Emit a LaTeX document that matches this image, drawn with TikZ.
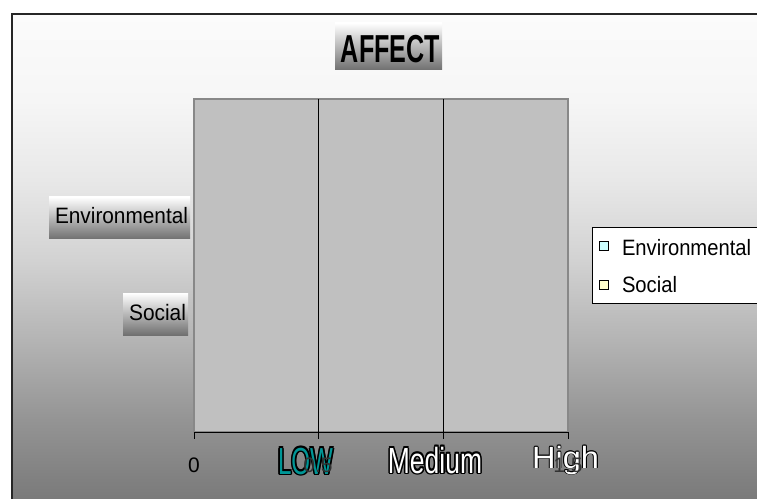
\documentclass[tikz,border=0pt]{standalone}
\usepackage{fontspec}
\setmainfont{Liberation Sans}
\usepackage{graphicx}
\definecolor{g0}{gray}{0.984}
\definecolor{g1}{gray}{0.965}
\definecolor{g2}{gray}{0.910}
\definecolor{g3}{gray}{0.824}
\definecolor{g4}{gray}{0.706}
\definecolor{g5}{gray}{0.580}
\definecolor{g6}{gray}{0.478}
\definecolor{plotgray}{RGB}{192,192,192}
\definecolor{plotedge}{RGB}{136,136,136}
\definecolor{boxgray}{RGB}{112,112,112}
\definecolor{envcol}{RGB}{204,255,255}
\definecolor{soccol}{RGB}{255,255,204}
\definecolor{teal2}{RGB}{0,150,150}
\pgfdeclareverticalshading{bgshade}{100bp}{color(0bp)=(g6); color(25bp)=(g6); color(26.11bp)=(g6); color(34.07bp)=(g5); color(42.14bp)=(g4); color(50.2bp)=(g3); color(58.27bp)=(g2); color(66.33bp)=(g1); color(75bp)=(g0); color(100bp)=(g0)}
\tikzset{
  txt/.style={inner sep=0pt, outer sep=0pt},
  gradbox/.style={top color=white, bottom color=boxgray},
  grid line/.style={black, line width=0.9bp},
}
\newcommand{\fsz}[1]{\fontsize{#1bp}{#1bp}\selectfont}
\begin{document}
\begin{tikzpicture}[x=1bp,y=-1bp]
\useasboundingbox (0,0) rectangle (757,499);
\fill[white] (0,0) rectangle (757,499);
% chart background
\shade[shading=bgshade] (12,14) rectangle (770,510);
\draw[line width=1.7bp, black!85] (770,14) -- (12,14) -- (12,510);
% plot area
\coordinate (pnw) at (194,99);
\coordinate (pse) at (568,432);
\filldraw[fill=plotgray, draw=plotedge, line width=2bp] (pnw) rectangle (pse);
\coordinate (g1t) at (318,99); \coordinate (g1b) at (318,432);
\coordinate (g2t) at (443,99); \coordinate (g2b) at (443,432);
\draw[grid line] (g1t) -- (g1b);
\draw[grid line] (g2t) -- (g2b);
% axis
\coordinate (a0) at (194,432); \coordinate (a1) at (318,432);
\coordinate (a2) at (443,432); \coordinate (a3) at (568,432);
\draw[grid line] (a0) -- (a3);
\foreach \c in {a0,a1,a2,a3} \draw[grid line] (\c) -- ++(0,6.5);
\node[txt, anchor=base, text=black!80] (t2) at (443,472) {\fsz{21}1};
% word-art axis labels
\foreach \dx/\dy [count=\i] in {-1.6/0,1.6/0,0/-1.6,0/1.6,-1.1/-1.1,1.1/-1.1,-1.1/1.1,1.1/1.1}{
  \node[txt, anchor=base, text=black] (lowc\i) at (305.5+\dx,474+\dy) {\fsz{37.7}\scalebox{0.64}[1]{LOW}};
  \node[txt, anchor=base, text=black] (medc\i) at (435+\dx,473+\dy) {\fsz{36.3}\scalebox{0.73}[1]{Medium}};
  \node[txt, anchor=base, text=black] (highc\i) at (565.5+0.6*\dx,468+0.6*\dy) {\fsz{30.7}\scalebox{1.06}[1]{High}};
}
\node[txt, anchor=base, text=teal2] (low) at (305.5,474) {\fsz{37.7}\scalebox{0.64}[1]{LOW}};
\node[txt, anchor=base, text=white] (med) at (435,473) {\fsz{36.3}\scalebox{0.73}[1]{Medium}};
\node[txt, anchor=base, text=white] (high) at (565.5,468) {\fsz{30.7}\scalebox{1.06}[1]{High}};
% tick labels (showing through the word-art)
\node[txt, anchor=base] (t0) at (194,472) {\fsz{21}0};
\node[txt, anchor=base, text=black!80] (t1) at (318,472) {\fsz{21}0.5};
\node[txt, anchor=base, text=black!80] (t3) at (568,472) {\fsz{21}1.5};
% title
\shade[gradbox] (335,23) rectangle (442,70);
\node[txt, anchor=base] (title) at (390.5,63) {\fsz{39}\bfseries\scalebox{0.644}[1]{AFFECT}};
% category labels
\shade[gradbox] (49,197) rectangle (190,239);
\node[txt, anchor=base east] (env) at (188,224) {\fsz{20.8}\scalebox{1}[1.07]{Environmental}};
\shade[gradbox] (123,293) rectangle (188,335);
\node[txt, anchor=base east] (soc) at (186,320) {\fsz{20.9}\scalebox{1}[1.07]{Social}};
% legend
\filldraw[fill=white, draw=black, line width=0.9bp] (592,227) rectangle (770,303);
\filldraw[fill=envcol, draw=black, line width=0.9bp] (599,241.5) rectangle (608,250.5);
\filldraw[fill=soccol, draw=black, line width=0.9bp] (599,280.5) rectangle (608,289.5);
\node[txt, anchor=base west] (lenv) at (622,256) {\fsz{20.2}\scalebox{1}[1.1]{Environmental}};
\node[txt, anchor=base west] (lsoc) at (622,293) {\fsz{20.2}\scalebox{1}[1.1]{Social}};
\end{tikzpicture}
\end{document}
